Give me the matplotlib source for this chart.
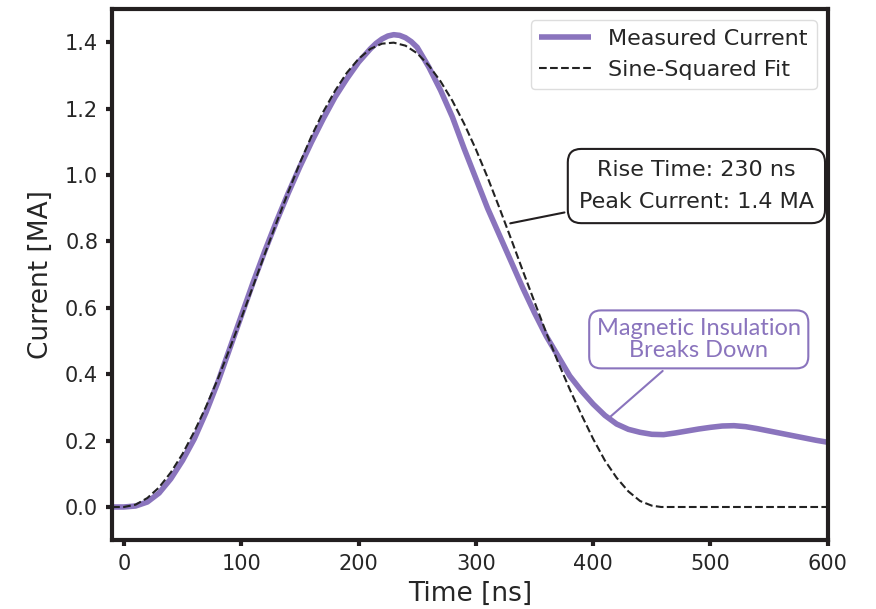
import matplotlib
matplotlib.use('Agg')
import matplotlib.pyplot as plt

plt.rcParams['font.family'] = ['DejaVu Sans']

# measured current, time in ns, current in MA
t_meas = [-10, 0, 10, 20, 30, 40, 50, 60, 70, 80, 90, 100, 110, 120, 130, 140,
          150, 160, 170, 180, 190, 200, 210, 215, 220, 225, 230, 235, 240, 245,
          250, 260, 270, 280, 290, 300, 310, 320, 330, 340, 350, 360, 370, 380,
          390, 400, 410, 420, 430, 440, 450, 460, 470, 480, 490, 500, 510, 520,
          530, 540, 550, 560, 570, 580, 590, 600]
i_meas = [0.0, 0.0, 0.003, 0.015, 0.042, 0.085, 0.14, 0.205, 0.285, 0.375,
          0.475, 0.575, 0.675, 0.77, 0.86, 0.945, 1.025, 1.10, 1.17, 1.235,
          1.29, 1.34, 1.38, 1.397, 1.41, 1.419, 1.423, 1.421, 1.414, 1.402,
          1.385, 1.325, 1.255, 1.175, 1.08, 0.99, 0.90, 0.82, 0.74, 0.66,
          0.585, 0.515, 0.455, 0.395, 0.35, 0.31, 0.276, 0.25, 0.234, 0.225,
          0.219, 0.218, 0.223, 0.229, 0.235, 0.240, 0.244, 0.245, 0.242,
          0.236, 0.229, 0.222, 0.215, 0.208, 0.201, 0.195]

# sine-squared fit as drawn
t_fit = [-10, 0, 10, 20, 30, 40, 50, 60, 70, 80, 90, 100, 110, 120, 130, 140,
         150, 160, 170, 180, 190, 200, 210, 220, 230, 240, 250, 260, 270, 280,
         290, 300, 310, 320, 330, 340, 350, 360, 370, 380, 390, 400, 410, 420,
         430, 440, 450, 458, 500, 550, 600]
i_fit = [0.0, 0.0, 0.007, 0.027, 0.059, 0.104, 0.160, 0.227, 0.302, 0.385,
         0.475, 0.568, 0.664, 0.761, 0.856, 0.948, 1.036, 1.118, 1.191, 1.254,
         1.308, 1.350, 1.380, 1.396, 1.399, 1.390, 1.367, 1.330, 1.282, 1.224,
         1.155, 1.078, 0.993, 0.902, 0.808, 0.712, 0.618, 0.525, 0.437, 0.355,
         0.278, 0.205, 0.140, 0.088, 0.047, 0.018, 0.004, 0.0, 0.0, 0.0, 0.0]

x_ticks = [0, 100, 200, 300, 400, 500, 600]
y_ticks = [0.0, 0.2, 0.4, 0.6, 0.8, 1.0, 1.2, 1.4]

purple = '#8a74bd'
dark = '#231f20'
text_c = '#262626'

fig = plt.figure(figsize=(8.76, 6.09), dpi=100)
ax = fig.add_axes([0.128, 0.113, 0.817, 0.872])

ax.plot(t_meas, i_meas, color=purple, lw=4, label='Measured Current',
        solid_capstyle='butt', solid_joinstyle='round')
ax.plot(t_fit, i_fit, color='#222222', lw=1.5, ls='--', label='Sine-Squared Fit')

ax.set_xlim(-10, 600)
ax.set_ylim(-0.1, 1.5)
ax.set_xticks(x_ticks)
ax.set_yticks(y_ticks)
ax.set_yticklabels(['%.1f' % v for v in y_ticks])

for s in ax.spines.values():
    s.set_linewidth(3)
    s.set_color(dark)
ax.tick_params(width=3, length=4, color=dark, labelsize=15,
               labelcolor=text_c, pad=6)

ax.set_xlabel('Time [ns]', fontsize=19, color=text_c, labelpad=5)
ax.set_ylabel('Current [MA]', fontsize=19, color=text_c, labelpad=8)

leg = ax.legend(loc='upper right', fontsize=16, handlelength=2.3,
                fancybox=True, framealpha=1, edgecolor='#dddddd')
for txt in leg.get_texts():
    txt.set_color(text_c)

ax.annotate('Rise Time: 230 ns\nPeak Current: 1.4 MA', xy=(327, 0.853),
            xytext=(488, 0.967), ha='center', va='center', fontsize=16,
            color=text_c, linespacing=1.75,
            bbox=dict(boxstyle='round,pad=0.5,rounding_size=0.6', fc='white',
                      ec=dark, lw=1.5),
            arrowprops=dict(arrowstyle='-', color=dark, lw=1.5))

ax.annotate('Magnetic Insulation\nBreaks Down', xy=(413, 0.267),
            xytext=(490, 0.505), ha='center', va='center', fontsize=17,
            family='Lato', color=purple, linespacing=1.05,
            bbox=dict(boxstyle='round,pad=0.32,rounding_size=0.5', fc='white',
                      ec=purple, lw=1.5),
            arrowprops=dict(arrowstyle='-', color=purple, lw=1.5))

plt.savefig('out.png', dpi=100)
